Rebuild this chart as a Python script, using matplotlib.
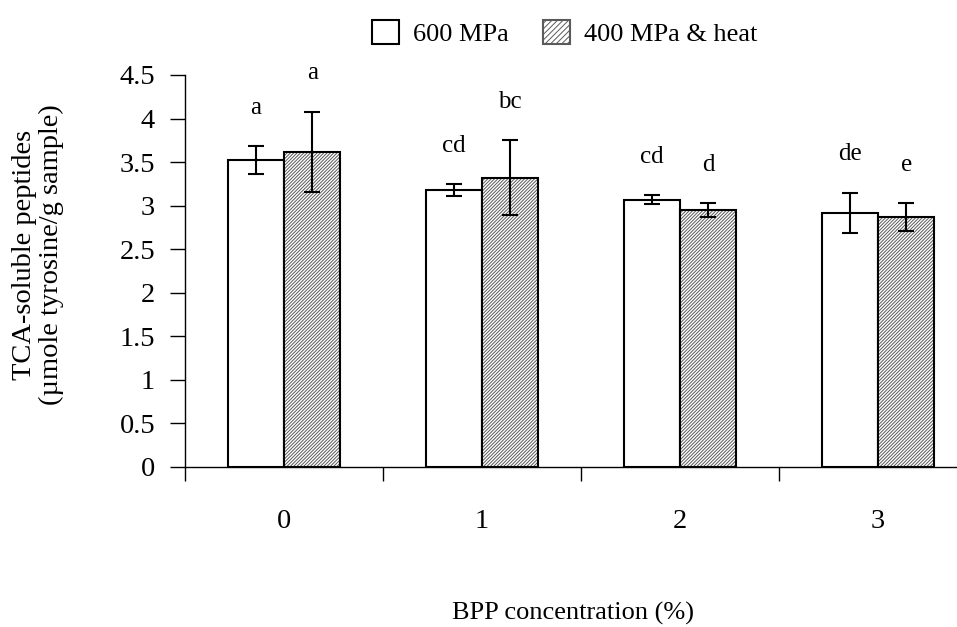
import numpy as np
import matplotlib
matplotlib.use('Agg')
import matplotlib.pyplot as plt
from matplotlib.patches import Patch

plt.rcParams['font.family'] = ['Liberation Serif', 'DejaVu Serif']
plt.rcParams['hatch.linewidth'] = 0.7

# data
conc = ['0', '1', '2', '3']
mpa600 = [3.52, 3.18, 3.07, 2.92]
mpa600_err = [0.16, 0.07, 0.05, 0.23]
heat400 = [3.62, 3.32, 2.95, 2.87]
heat400_err = [0.46, 0.43, 0.08, 0.16]
mpa600_lett = ['a', 'cd', 'cd', 'de']
heat400_lett = ['a', 'bc', 'd', 'e']

fig = plt.figure(figsize=(9.57, 6.27), dpi=100)
ax = fig.add_axes([185/957, 160/627, 792/957, 392/627])

x = np.arange(len(conc))
w = 0.285
hatch = '/' * 10

# white bars
ax.bar(x - w/2, mpa600, w, color='white', edgecolor='black', linewidth=1.5, zorder=2)
# hatched bars: grey hatch first, black outline on top
ax.bar(x + w/2, heat400, w, color='white', edgecolor='#5a5a5a', hatch=hatch, linewidth=0, zorder=2)
ax.bar(x + w/2, heat400, w, color='none', edgecolor='black', linewidth=1.5, zorder=3)

ax.errorbar(x - w/2, mpa600, yerr=mpa600_err, fmt='none', ecolor='black',
            elinewidth=1.5, capsize=6, capthick=1.5, zorder=4)
ax.errorbar(x + w/2, heat400, yerr=heat400_err, fmt='none', ecolor='black',
            elinewidth=1.5, capsize=6, capthick=1.5, zorder=4)

for i in range(len(conc)):
    ax.text(x[i] - w/2, mpa600[i] + mpa600_err[i] + 0.44, mpa600_lett[i],
            ha='center', va='center', fontsize=18)
    ax.text(x[i] + w/2, heat400[i] + heat400_err[i] + 0.44, heat400_lett[i],
            ha='center', va='center', fontsize=18)

ax.set_xlim(-0.5, 3.5)
ax.set_ylim(0, 4.5)
ax.set_yticks(np.arange(0, 4.51, 0.5))
ax.set_yticklabels(['0', '0.5', '1', '1.5', '2', '2.5', '3', '3.5', '4', '4.5'], fontsize=20.5)
ax.tick_params(axis='y', length=10.5, width=1, pad=11)

ax.set_xticks(np.arange(-0.5, 3.6, 1.0))
ax.set_xticklabels([])
ax.tick_params(axis='x', which='major', length=10, width=1, direction='out')
ax.set_xticks(x, minor=True)
ax.set_xticklabels(conc, minor=True, fontsize=20.5)
ax.tick_params(axis='x', which='minor', length=0, pad=30)

for s in ['top', 'right']:
    ax.spines[s].set_visible(False)
ax.spines['left'].set_linewidth(1)
ax.spines['bottom'].set_linewidth(1)

fig.text(38/957, 1 - 255/627, 'TCA-soluble peptides\n(\u00b5mole tyrosine/g sample)',
         rotation=90, ha='center', va='center', fontsize=20.5, linespacing=1.1)
fig.text(573/957, 1 - 613/627, 'BPP concentration (%)', ha='center', va='center', fontsize=19)

handles = [Patch(facecolor='white', edgecolor='black', linewidth=1.5),
           Patch(facecolor='white', edgecolor='#5a5a5a', hatch='//////', linewidth=1.5)]
fig.legend(handles, ['600 MPa', '400 MPa & heat'], loc='center', ncol=2,
           bbox_to_anchor=(565/957, 1 - 33/627), frameon=False, fontsize=19,
           handlelength=1.0, handleheight=1.0, handletextpad=0.55, columnspacing=1.3,
           borderpad=0, borderaxespad=0)

fig.savefig('out.png', dpi=100)
